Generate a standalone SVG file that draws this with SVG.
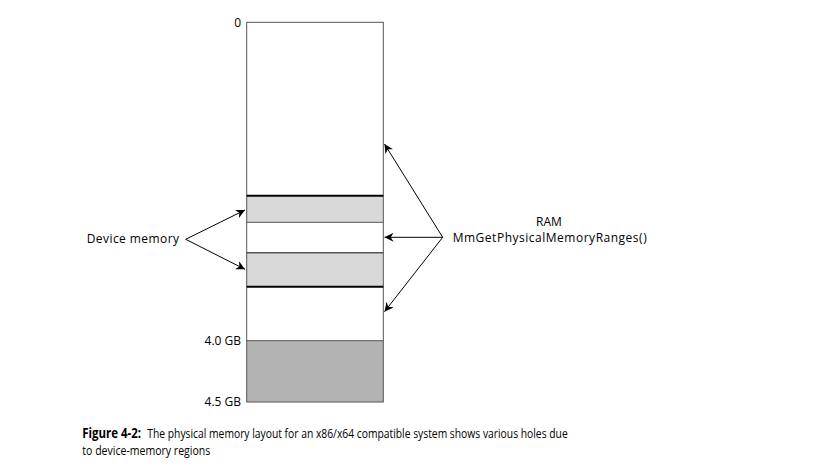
<svg xmlns="http://www.w3.org/2000/svg" width="822" height="472" viewBox="0 0 822 472">
<defs>
<marker id="ah" viewBox="0 0 10 10" refX="10" refY="5" markerWidth="9" markerHeight="9" markerUnits="userSpaceOnUse" orient="auto">
<path d="M0,0 L10,5 L0,10 L3,5 z" fill="#000"/>
</marker>
<style>
.lbl{font-family:"Open Sans","Liberation Sans",sans-serif;font-size:12px;fill:#000}
.cap{font-family:"Open Sans","Liberation Sans",sans-serif;font-size:13.5px;fill:#000}
.thin{stroke:#555;stroke-width:1;fill:none}
.thick{stroke:#000;stroke-width:2;fill:none}
.conn{stroke:#000;stroke-width:1;fill:none;marker-end:url(#ah)}
</style>
</defs>
<rect width="822" height="472" fill="#fff"/>
<g id="memory">
<rect x="246.7" y="22.3" width="136.6" height="379.7" fill="#fff"/>
<rect x="246.7" y="195.7" width="136.6" height="26.6" fill="#d9d9d9"/>
<rect x="246.7" y="252.7" width="136.6" height="34" fill="#d9d9d9"/>
<rect x="246.7" y="340.7" width="136.6" height="61.3" fill="#b3b3b3"/>
<rect class="thin" x="246.7" y="22.3" width="136.6" height="379.7"/>
<line class="thick" x1="246.7" y1="195.7" x2="383.3" y2="195.7"/>
<line class="thin" x1="246.7" y1="222.3" x2="383.3" y2="222.3"/>
<line class="thin" x1="246.7" y1="252.7" x2="383.3" y2="252.7" style="stroke-width:1.5"/>
<line class="thick" x1="246.7" y1="286.7" x2="383.3" y2="286.7"/>
<line class="thin" x1="246.7" y1="340.7" x2="383.3" y2="340.7"/>
</g>
<g id="labels">
<text class="lbl" x="241" y="27" text-anchor="end">0</text>
<text class="lbl" x="241" y="345" text-anchor="end">4.0 GB</text>
<text class="lbl" x="241" y="406" text-anchor="end">4.5 GB</text>
</g>
<g id="device-memory">
<text class="lbl" x="86.7" y="243.3" textLength="92.3">Device memory</text>
</g>
<g id="ram">
<text class="lbl" x="549" y="226" text-anchor="middle" font-size="11.5">RAM</text>
<text class="lbl" x="452.7" y="241.7" textLength="194">MmGetPhysicalMemoryRanges()</text>
</g>
<g id="connectors">
<line class="conn" x1="185.7" y1="239.3" x2="245" y2="210"/>
<line class="conn" x1="185.7" y1="239.3" x2="245" y2="269.3"/>
<line class="conn" x1="442.7" y1="237.3" x2="384.5" y2="144"/>
<line class="conn" x1="442.7" y1="237.3" x2="384.5" y2="237.3"/>
<line class="conn" x1="442.7" y1="237.3" x2="384.5" y2="311.7"/>
</g>
<g id="caption">
<text class="cap" x="82.3" y="438" font-weight="bold" textLength="58.7" lengthAdjust="spacingAndGlyphs">Figure 4-2:</text>
<text class="cap" x="147.3" y="438" textLength="420.4" lengthAdjust="spacingAndGlyphs">The physical memory layout for an x86/x64 compatible system shows various holes due</text>
<text class="cap" x="82.3" y="455" textLength="128" lengthAdjust="spacingAndGlyphs">to device-memory regions</text>
</g>
</svg>
